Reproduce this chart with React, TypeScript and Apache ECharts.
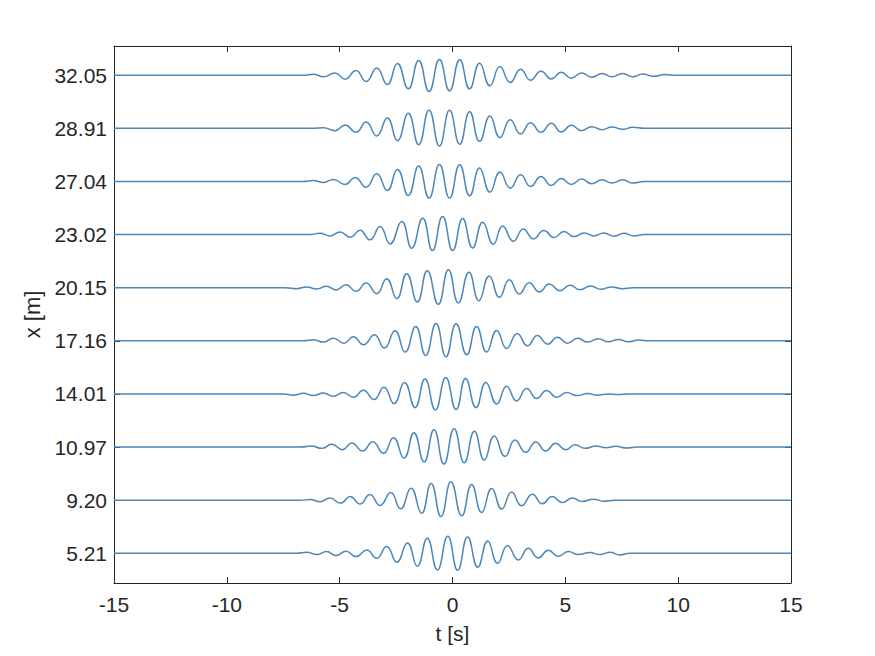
import React, { useEffect, useRef } from "react";
import * as echarts from "echarts";

// Station positions (y tick labels, bottom to top)
const positionLabels = ["5.21", "9.20", "10.97", "14.01", "17.16", "20.15", "23.02", "27.04", "28.91", "32.05"];

// Time axis ticks
const xTicks = [-15, -10, -5, 0, 5, 10, 15];

// Each trace: [t (s), displacement relative to trace baseline (in trace-spacing units)] at extrema
const trace_5_21: number[][] = [
  [-15, 0], [-10, 0], [-6.9, 0], [-6.46, 0.019], [-6.02, -0.025], [-5.58, 0.031], [-5.16, -0.044], [-4.72, 0.038], [-4.28, -0.063],
  [-3.8, 0.063], [-3.36, -0.094], [-2.92, 0.126], [-2.47, -0.169], [-2.0, 0.195], [-1.56, -0.245],
  [-1.12, 0.282], [-0.67, -0.314], [-0.21, 0.32], [0.23, -0.32], [0.67, 0.308], [1.12, -0.264],
  [1.56, 0.232], [2.0, -0.188], [2.44, 0.144], [2.92, -0.126], [3.36, 0.094], [3.8, -0.088],
  [4.25, 0.056], [4.69, -0.056], [5.13, 0.031], [5.58, -0.025], [6.09, 0.013], [6.54, -0.025],
  [6.98, 0.019], [7.42, -0.031], [7.87, 0], [10, 0], [15, 0],
];
const trace_9_20: number[][] = [
  [-15, 0], [-10, 0], [-6.75, 0], [-6.3, 0.01], [-5.87, -0.031], [-5.43, 0.038], [-4.96, -0.056], [-4.54, 0.069], [-4.1, -0.075],
  [-3.66, 0.107], [-3.21, -0.1], [-2.74, 0.144], [-2.3, -0.163], [-1.84, 0.226], [-1.37, -0.245],
  [-0.95, 0.314], [-0.51, -0.308], [-0.07, 0.345], [0.41, -0.295], [0.85, 0.295], [1.29, -0.232],
  [1.74, 0.22], [2.18, -0.169], [2.62, 0.151], [3.06, -0.107], [3.54, 0.113], [3.98, -0.069],
  [4.42, 0.069], [4.87, -0.044], [5.31, 0.038], [5.76, -0.025], [6.24, 0.019], [6.68, -0.019], [7.2, 0], [10, 0], [15, 0],
];
const trace_10_97: number[][] = [
  [-15, 0], [-10, 0], [-6.7, 0], [-6.24, 0.019], [-5.8, -0.025], [-5.35, 0.05], [-4.88, -0.05], [-4.47, 0.075], [-3.98, -0.075],
  [-3.54, 0.1], [-3.06, -0.119], [-2.62, 0.176], [-2.15, -0.207], [-1.71, 0.27], [-1.26, -0.282],
  [-0.82, 0.326], [-0.38, -0.32], [0.07, 0.345], [0.52, -0.295], [0.97, 0.295], [1.41, -0.245],
  [1.85, 0.207], [2.33, -0.176], [2.77, 0.132], [3.24, -0.1], [3.69, 0.094], [4.13, -0.075],
  [4.57, 0.069], [5.02, -0.05], [5.43, 0.044], [5.87, -0.025], [6.36, 0.019], [6.8, -0.013],
  [7.24, 0.013], [7.72, -0.019], [8.2, 0], [10, 0], [15, 0],
];
const trace_14_01: number[][] = [
  [-15, 0], [-10, 0], [-7.5, 0], [-7.05, -0.025], [-6.61, 0.013], [-6.17, -0.031], [-5.72, 0.019], [-5.28, -0.044],
  [-4.84, 0.025], [-4.39, -0.063], [-3.95, 0.069], [-3.48, -0.107], [-3.04, 0.126], [-2.59, -0.182],
  [-2.13, 0.213], [-1.66, -0.257], [-1.22, 0.282], [-0.76, -0.301], [-0.3, 0.308], [0.16, -0.295],
  [0.58, 0.289], [1.04, -0.257], [1.48, 0.213], [1.96, -0.188], [2.4, 0.144], [2.84, -0.132],
  [3.29, 0.1], [3.73, -0.088], [4.17, 0.063], [4.62, -0.063], [5.06, 0.025], [5.53, -0.031],
  [5.98, 0.006], [6.42, -0.025], [6.91, 0], [7.35, -0.013], [7.8, 0], [10, 0], [15, 0],
];
const trace_17_16: number[][] = [
  [-15, 0], [-10, 0], [-6.6, 0], [-6.17, 0.019], [-5.72, -0.025], [-5.28, 0.05], [-4.81, -0.044], [-4.39, 0.075], [-3.95, -0.075],
  [-3.46, 0.113], [-3.02, -0.138], [-2.55, 0.188], [-2.1, -0.213], [-1.63, 0.27], [-1.19, -0.276],
  [-0.73, 0.326], [-0.29, -0.301], [0.16, 0.32], [0.63, -0.264], [1.07, 0.27], [1.51, -0.213],
  [1.96, 0.195], [2.4, -0.144], [2.87, 0.138], [3.32, -0.094], [3.76, 0.1], [4.22, -0.063],
  [4.65, 0.069], [5.09, -0.044], [5.55, 0.05], [5.99, -0.025], [6.46, 0.038], [6.91, -0.019],
  [7.35, 0.025], [7.79, -0.019], [8.24, 0.013], [8.7, 0], [10, 0], [15, 0],
];
const trace_20_15: number[][] = [
  [-15, 0], [-10, 0], [-7.4, 0], [-6.91, -0.019], [-6.46, 0.013], [-6.02, -0.025], [-5.58, 0.025], [-5.16, -0.044],
  [-4.72, 0.056], [-4.28, -0.069], [-3.83, 0.088], [-3.36, -0.113], [-2.92, 0.169], [-2.47, -0.207],
  [-2.03, 0.264], [-1.56, -0.27], [-1.12, 0.32], [-0.63, -0.314], [-0.18, 0.339], [0.26, -0.289],
  [0.73, 0.289], [1.17, -0.245], [1.63, 0.22], [2.08, -0.182], [2.52, 0.151], [2.96, -0.119],
  [3.4, 0.094], [3.85, -0.082], [4.29, 0.069], [4.76, -0.056], [5.21, 0.044], [5.65, -0.038],
  [6.12, 0.031], [6.57, -0.031], [7.05, 0.013], [7.5, -0.019], [8.0, 0], [10, 0], [15, 0],
];
const trace_23_02: number[][] = [
  [-15, 0], [-10, 0], [-6.3, 0], [-5.87, 0.025], [-5.43, -0.025], [-4.99, 0.05], [-4.54, -0.05], [-4.1, 0.082], [-3.66, -0.1],
  [-3.21, 0.151], [-2.77, -0.176], [-2.25, 0.245], [-1.81, -0.257], [-1.32, 0.308], [-0.89, -0.301],
  [-0.44, 0.339], [0.01, -0.301], [0.45, 0.301], [0.89, -0.251], [1.34, 0.232], [1.81, -0.182],
  [2.22, 0.163], [2.7, -0.126], [3.14, 0.107], [3.58, -0.082], [4.05, 0.075], [4.5, -0.056],
  [4.94, 0.056], [5.38, -0.038], [5.83, 0.031], [6.27, -0.025], [6.71, 0.031], [7.16, -0.031],
  [7.6, 0.025], [8.04, -0.025], [8.5, 0], [10, 0], [15, 0],
];
const trace_27_04: number[][] = [
  [-15, 0], [-10, 0], [-6.6, 0], [-6.17, 0.019], [-5.72, -0.019], [-5.28, 0.038], [-4.76, -0.056], [-4.32, 0.075],
  [-3.83, -0.107], [-3.36, 0.144], [-2.89, -0.169], [-2.44, 0.226], [-1.96, -0.264], [-1.5, 0.289],
  [-1.04, -0.314], [-0.58, 0.32], [-0.13, -0.314], [0.32, 0.314], [0.76, -0.27], [1.2, 0.251],
  [1.66, -0.201], [2.1, 0.176], [2.56, -0.126], [3.02, 0.126], [3.46, -0.094], [3.92, 0.094],
  [4.38, -0.075], [4.82, 0.056], [5.27, -0.056], [5.72, 0.044], [6.17, -0.044], [6.62, 0.031],
  [7.07, -0.031], [7.54, 0.031], [7.98, -0.031], [8.5, 0], [10, 0], [15, 0],
];
const trace_28_91: number[][] = [
  [-15, 0], [-10, 0], [-6.2, 0], [-5.72, 0.013], [-5.21, -0.044], [-4.76, 0.063], [-4.28, -0.075], [-3.83, 0.119],
  [-3.36, -0.144], [-2.89, 0.195], [-2.44, -0.232], [-1.96, 0.282], [-1.5, -0.308], [-1.04, 0.339],
  [-0.58, -0.333], [-0.13, 0.339], [0.32, -0.301], [0.76, 0.314], [1.2, -0.245], [1.66, 0.232],
  [2.1, -0.176], [2.56, 0.163], [3.02, -0.107], [3.46, 0.107], [3.92, -0.075], [4.38, 0.094],
  [4.82, -0.069], [5.27, 0.056], [5.72, -0.044], [6.17, 0.031], [6.62, -0.025], [7.07, 0.025],
  [7.54, -0.019], [7.98, 0.019], [8.5, 0], [10, 0], [15, 0],
];
const trace_32_05: number[][] = [
  [-15, 0], [-10, 0], [-6.6, 0], [-6.17, 0.02], [-5.72, -0.03], [-5.21, 0.044], [-4.76, -0.075], [-4.28, 0.088],
  [-3.83, -0.119], [-3.36, 0.138], [-2.89, -0.176], [-2.44, 0.22], [-1.96, -0.257], [-1.5, 0.276],
  [-1.04, -0.308], [-0.58, 0.295], [-0.13, -0.295], [0.32, 0.289], [0.76, -0.257], [1.2, 0.226],
  [1.66, -0.2], [2.1, 0.163], [2.56, -0.138], [3.02, 0.113], [3.46, -0.094], [3.92, 0.075],
  [4.38, -0.069], [4.82, 0.056], [5.27, -0.056], [5.72, 0.044], [6.17, -0.038], [6.62, 0.031],
  [7.07, -0.031], [7.54, 0.031], [7.98, -0.031], [8.43, 0.025], [8.9, -0.02], [9.4, 0.012], [9.9, 0], [11.5, 0], [15, 0],
];

const traces = [
  trace_5_21, trace_9_20, trace_10_97, trace_14_01, trace_17_16,
  trace_20_15, trace_23_02, trace_27_04, trace_28_91, trace_32_05,
];

const FONT = "'Liberation Sans', Arial, Helvetica, sans-serif";
const INK = "#262626";
const LINE = "#4d87b8";

export default function App() {
  const ref = useRef<HTMLDivElement>(null);
  useEffect(() => {
    if (!ref.current) return;
    const chart = echarts.init(ref.current, undefined, { renderer: "svg" });
    const levels = positionLabels.map((_, i) => i + 1);
    const series = traces.map((tr, i) => ({
      type: "line",
      data: tr.map(([t, a]) => [t, i + 1 + a]),
      smooth: 0.5,
      showSymbol: false,
      symbol: "none",
      lineStyle: { color: LINE, width: 1.5 },
      xAxisIndex: 0,
      yAxisIndex: 0,
      silent: true,
    }));
    const tickStyle = { inside: true, length: 6, lineStyle: { color: INK, width: 1 } };
    chart.setOption({
      animation: false,
      backgroundColor: "#ffffff",
      grid: { left: 114, right: 84, top: 46, bottom: 73, containLabel: false },
      xAxis: [
        {
          type: "value",
          min: -15,
          max: 15,
          interval: 5,
          position: "bottom",
          name: "t [s]",
          nameLocation: "middle",
          nameGap: 40,
          nameTextStyle: { color: INK, fontSize: 21, fontFamily: FONT },
          axisLine: { show: true, onZero: false, lineStyle: { color: INK, width: 1 } },
          axisTick: { ...tickStyle, customValues: xTicks },
          axisLabel: { color: INK, fontSize: 21, fontFamily: FONT, margin: 11, customValues: xTicks },
          splitLine: { show: false },
        },
        {
          type: "value",
          min: -15,
          max: 15,
          interval: 5,
          position: "top",
          axisLine: { show: true, onZero: false, lineStyle: { color: INK, width: 1 } },
          axisTick: { ...tickStyle, customValues: xTicks },
          axisLabel: { show: false },
          splitLine: { show: false },
        },
      ],
      yAxis: [
        {
          type: "value",
          min: 0.44,
          max: 10.55,
          position: "left",
          name: "x [m]",
          nameLocation: "middle",
          nameGap: 70,
          nameRotate: 90,
          nameTextStyle: { color: INK, fontSize: 22, fontFamily: FONT },
          axisLine: { show: true, onZero: false, lineStyle: { color: INK, width: 1 } },
          axisTick: { ...tickStyle, customValues: levels },
          axisLabel: {
            color: INK,
            fontSize: 21,
            fontFamily: FONT,
            margin: 7,
            customValues: levels,
            formatter: (v: number) => positionLabels[Math.round(v) - 1] ?? "",
          },
          splitLine: { show: false },
        },
        {
          type: "value",
          min: 0.44,
          max: 10.55,
          position: "right",
          axisLine: { show: true, onZero: false, lineStyle: { color: INK, width: 1 } },
          axisTick: { ...tickStyle, customValues: levels },
          axisLabel: { show: false },
          splitLine: { show: false },
        },
      ],
      series,
    });
    return () => chart.dispose();
  }, []);
  return (
    <div
      ref={ref}
      style={{ position: "absolute", left: 0, top: 0, width: 875, height: 656, background: "#fff" }}
    />
  );
}
